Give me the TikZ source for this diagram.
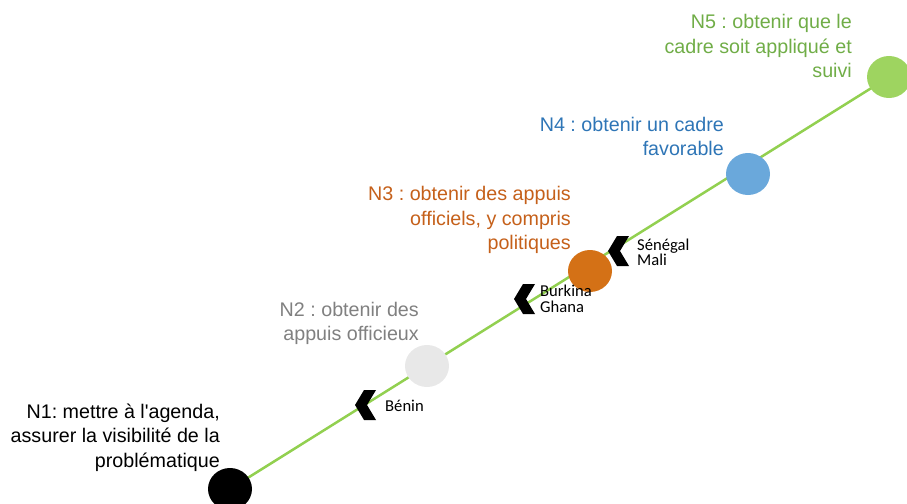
\documentclass[tikz,border=0pt]{standalone}
\usepackage{fontspec}
\setmainfont{Liberation Sans}
\newfontfamily\calibri{Carlito}
\usetikzlibrary{shapes.geometric,backgrounds}
\frenchspacing

\definecolor{trackgreen}{RGB}{146,208,80}
\definecolor{textgreen}{RGB}{112,173,71}
\definecolor{fillgreen}{RGB}{158,212,96}
\definecolor{textblue}{RGB}{46,117,182}
\definecolor{fillblue}{RGB}{106,168,219}
\definecolor{textorange}{RGB}{197,96,26}
\definecolor{fillorange}{RGB}{212,113,22}
\definecolor{textgrey}{RGB}{128,128,128}
\definecolor{fillgrey}{RGB}{232,232,232}

\begin{document}
\begin{tikzpicture}[x=1pt, y=-1pt,
  level/.style={ellipse, minimum width=44pt, minimum height=42pt, inner sep=0pt},
  goal/.style={anchor=north east, align=right, inner sep=0pt, font=\fontsize{19.7}{24.5}\selectfont},
  country/.style={anchor=north west, align=left, inner sep=0pt, font=\calibri\fontsize{16.6}{15.7}\selectfont},
  track/.style={draw=trackgreen, line width=2.5pt}]
\useasboundingbox (0,0) rectangle (907,503);
% levels along the track
\node[level, fill=black] (n1) at (230,489) {};
\node[level, fill=fillgrey] (n2) at (427,366) {};
\node[level, fill=fillorange] (n3) at (590,271) {};
\node[level, fill=fillblue] (n4) at (748,174) {};
\node[level, fill=fillgreen] (n5) at (889,77) {};
\begin{scope}[on background layer]
\draw[track] (n1.center) -- (n5.center);
\end{scope}
% level texts
\node[goal, text=textgreen] (t5) at (852,14.5) {N5 : obtenir que le\\cadre soit appliqué et\\suivi};
\node[goal, text=textblue] (t4) at (724,117) {N4 : obtenir un cadre\\favorable};
\node[goal, text=textorange] (t3) at (571,186.5) {N3 : obtenir des appuis\\officiels, y compris\\politiques};
\node[goal, text=textgrey] (t2) at (419,302) {N2 : obtenir des\\appuis officieux};
\node[goal, text=black] (t1) at (220,403.5) {N1: mettre à l\textquotesingle agenda,\\assurer la visibilité de la\\problématique};
% countries
\coordinate (cbenin) at (355,405);
\coordinate (cburkina) at (514,299);
\coordinate (csenegal) at (608,251);
\fill (cbenin) -- ++(9,-15) -- ++(12,0) -- ++(-9,15) -- ++(9,15) -- ++(-12,0) -- cycle;
\fill (cburkina) -- ++(9,-15) -- ++(12,0) -- ++(-9,15) -- ++(9,15) -- ++(-12,0) -- cycle;
\fill (csenegal) -- ++(9,-15) -- ++(12,0) -- ++(-9,15) -- ++(9,15) -- ++(-12,0) -- cycle;
\node[country] (lbenin) at (385,400) {Bénin};
\node[country] (lburkina) at (540,285) {Burkina\\Ghana};
\node[country] (lsenegal) at (637,238.5) {Sénégal\\Mali};
\end{tikzpicture}
\end{document}
